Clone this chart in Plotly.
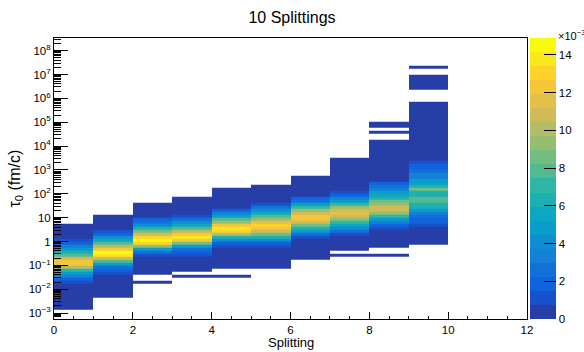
import numpy as np
import plotly.graph_objects as go

# ---------------- data ----------------
x_edges = [0, 1, 2, 3, 4, 5, 6, 7, 8, 9, 10]          # Splitting bins
log_y_min = -3.5                                       # lowest log10(tau0) bin edge
log_bin = 0.125                                        # log10 bin width
n_ybins = 96
# lowest log10 edge of the filled range of each column
col_low = [-2.875, -2.375, -1.75, -1.5, -1.5, -1.125, -0.75, -0.625, -0.625, -0.125]
# bin contents (units of 1e-3), bottom -> top
col0 = [0.1, 0.1, 0.1, 0.15, 0.15, 0.2, 0.3, 0.4, 0.6, 1.0, 1.8, 3.0, 4.8, 7.0, 10.0, 12.0,
        12.2, 10.5, 8.0, 6.0, 4.5, 3.0, 2.0, 1.2, 0.7, 0.5, 0.3, 0.2, 0.1]
col1 = [0.1, 0.1, 0.15, 0.2, 0.3, 0.4, 0.5, 0.6, 0.9, 1.5, 2.5, 4.5, 7.5, 11.0, 13.8, 14.2,
        12.5, 10.0, 8.0, 5.5, 3.8, 2.2, 1.0, 0.6, 0.4, 0.3, 0.2, 0.1]
col2 = [0.1, 0, 0, 0.1, 0.15, 0.2, 0.3, 0.4, 0.7, 1.2, 2.5, 5.0, 9.5, 13.0, 14.8, 13.0,
        10.5, 8.5, 6.0, 4.0, 2.5, 1.5, 0.7, 0.5, 0.3, 0.2, 0.1]
col3 = [0.1, 0, 0.1, 0.15, 0.2, 0.3, 0.5, 0.8, 1.5, 2.8, 5.0, 8.5, 12.0, 13.5, 12.5, 10.0,
        7.5, 5.5, 3.8, 2.5, 1.3, 0.7, 0.5, 0.3, 0.2, 0.15, 0.1]
col4 = [0.1, 0, 0, 0.1, 0.15, 0.2, 0.25, 0.3, 0.4, 0.6, 1.2, 2.2, 3.8, 6.5, 10.0, 13.0,
        14.0, 12.0, 9.5, 7.5, 5.0, 3.0, 1.6, 0.7, 0.5, 0.4, 0.3, 0.2, 0.15, 0.1]
col5 = [0.1, 0.15, 0.2, 0.25, 0.3, 0.4, 0.6, 1.2, 2.2, 4.0, 6.0, 8.5, 11.0, 12.5, 12.8,
        11.5, 9.5, 7.5, 5.5, 3.8, 2.5, 1.2, 0.6, 0.4, 0.3, 0.2, 0.15, 0.1]
col6 = [0.1, 0.15, 0.2, 0.25, 0.3, 0.4, 0.6, 1.3, 2.8, 4.5, 6.5, 8.5, 10.5, 12.0, 12.3,
        11.0, 9.0, 7.0, 4.5, 2.8, 1.5, 0.7, 0.5, 0.4, 0.3, 0.2, 0.15, 0.1]
col7 = [0.1, 0, 0.1, 0.15, 0.2, 0.3, 0.5, 1.2, 2.5, 4.0, 5.5, 7.0, 9.0, 10.5, 11.5, 10.5,
        9.0, 7.0, 5.0, 3.5, 2.2, 1.2, 0.6, 0.5, 0.4, 0.3, 0.25, 0.2, 0.2, 0.15, 0.1, 0.1, 0.1]
col8 = [0.1, 0, 0, 0.1, 0.15, 0.2, 0.25, 0.3, 0.5, 1.0, 2.0, 3.0, 5.0, 7.0, 9.0, 10.5,
        10.5, 9.5, 8.5, 6.5, 5.5, 4.5, 3.5, 2.5, 1.5, 0.7, 0.5, 0.4, 0.35, 0.3, 0.25, 0.2,
        0.2, 0.15, 0.15, 0.1, 0.1, 0.1, 0.1, 0, 0, 0.1, 0, 0.1, 0.1]
col9 = [0.1, 0.15, 0.2, 0.3, 0.4, 0.6, 1.0, 1.5, 2.0, 2.8, 3.5, 5.0, 6.0, 6.5, 7.8, 7.5,
        6.2, 6.5, 8.8, 6.0, 5.2, 4.5, 3.5, 3.0, 2.5, 1.8, 1.5, 1.0, 0.6, 0.5, 0.45, 0.4,
        0.35, 0.3, 0.3, 0.25, 0.25, 0.2, 0.2, 0.2, 0.15, 0.15, 0.15, 0.1, 0.1, 0.1, 0.1,
        0.1, 0, 0, 0, 0, 0.1, 0.1, 0.1, 0.1, 0.1, 0, 0, 0.1]
columns = [col0, col1, col2, col3, col4, col5, col6, col7, col8, col9]

z_max = 14.9e-3
cbar_vals = [0, 2, 4, 6, 8, 10, 12, 14]
y_tick_exp = list(range(-3, 9))

# ---------------- build matrix ----------------
z = np.full((n_ybins, len(columns)), np.nan)
for j, (low, vals) in enumerate(zip(col_low, columns)):
    start = int(round((low - log_y_min) / log_bin))
    for k, v in enumerate(vals):
        if v > 0:
            z[start + k, j] = v * 1e-3
y_edges = 10.0 ** (log_y_min + log_bin * np.arange(n_ybins + 1))

# ---------------- ROOT kBird palette, 20 contour levels ----------------
st = [0.0, 0.125, 0.25, 0.375, 0.5, 0.625, 0.75, 0.875, 1.0]
rr = [0.2082, 0.0592, 0.0780, 0.0232, 0.1802, 0.5301, 0.8186, 0.9956, 0.9764]
gg = [0.1664, 0.3599, 0.5041, 0.6419, 0.7178, 0.7492, 0.7328, 0.7862, 0.9832]
bb = [0.5293, 0.8684, 0.8385, 0.7914, 0.6425, 0.4662, 0.3499, 0.1968, 0.0539]
nlev = 20
cs = []
for i in range(nlev):
    f = int((i + 0.99) * 255 / nlev) / 254
    c = "rgb(%d,%d,%d)" % tuple(int(round(255 * np.interp(f, st, ch))) for ch in (rr, gg, bb))
    cs.append([i / nlev, c])
    cs.append([(i + 1) / nlev, c])

font_family = "Liberation Sans, Arial, Helvetica, sans-serif"

def sup(e):
    if e == 0:
        return "1"
    if e == 1:
        return "10"
    return "10<sup>%s</sup>" % (str(e).replace("-", "\u2212"))

fig = go.Figure(go.Heatmap(
    x=x_edges, y=y_edges, z=z, zmin=0, zmax=z_max,
    colorscale=cs, hoverongaps=False,
    colorbar=dict(
        x=1.0063, xanchor="left", y=0.5, yanchor="middle",
        len=1, lenmode="fraction", thickness=26, thicknessmode="pixels",
        xpad=0, ypad=0, outlinewidth=0,
        ticks="inside", ticklen=12, tickwidth=1, tickcolor="black",
        tickvals=[v * 1e-3 for v in cbar_vals], ticktext=[str(v) for v in cbar_vals],
        tickfont=dict(size=11.5, color="black", family=font_family),
    ),
))

minor_y = [k * 10.0 ** e for e in range(-4, 9) for k in range(2, 10)]
minor_x = [i * 0.5 for i in range(25) if i % 4 != 0]

fig.update_layout(
    width=584, height=352,
    margin=dict(l=54, r=57, t=37.5, b=32.5, autoexpand=False),
    paper_bgcolor="white", plot_bgcolor="white",
    font=dict(family=font_family, color="black"),
    title=dict(text="10 Splittings", x=0.5, xanchor="center", y=1 - 17 / 352, yanchor="middle",
               font=dict(size=16, color="black", family=font_family)),
    xaxis=dict(
        range=[0, 12], tickvals=[0, 2, 4, 6, 8, 10, 12], ticks="inside", ticklen=7,
        tickcolor="black", showline=True, linecolor="black", linewidth=1, mirror=True,
        showgrid=False, zeroline=False, tickfont=dict(size=11.5),
        minor=dict(tickvals=minor_x, ticks="inside", ticklen=3.5, tickcolor="black", showgrid=False),
    ),
    yaxis=dict(
        type="log", range=[-3.25, 8.53],
        tickvals=[10.0 ** e for e in y_tick_exp], ticktext=[sup(e) for e in y_tick_exp],
        ticks="inside", ticklen=14, tickcolor="black",
        showline=True, linecolor="black", linewidth=1, mirror=True,
        showgrid=False, zeroline=False, tickfont=dict(size=11.5),
        minor=dict(tickvals=minor_y, ticks="inside", ticklen=7, tickcolor="black", showgrid=False),
    ),
    annotations=[
        dict(text="Splitting", xref="paper", yref="paper", x=0.5, y=(319.5 - 343.5) / 282,
             xanchor="center", yanchor="middle", showarrow=False, font=dict(size=13)),
        dict(text="\u03c4<sub>0</sub> (fm/c)", xref="paper", yref="paper",
             x=(15 - 54) / 473, y=0.5, xanchor="center", yanchor="middle",
             textangle=-90, showarrow=False, font=dict(size=16)),
        dict(text="\u00d710<sup>\u22123</sup>", xref="paper", yref="paper",
             x=(556 - 54) / 473, y=(319.5 - 34) / 282, xanchor="left", yanchor="middle",
             showarrow=False, font=dict(size=11)),
    ],
)

fig.write_html("out.html")
